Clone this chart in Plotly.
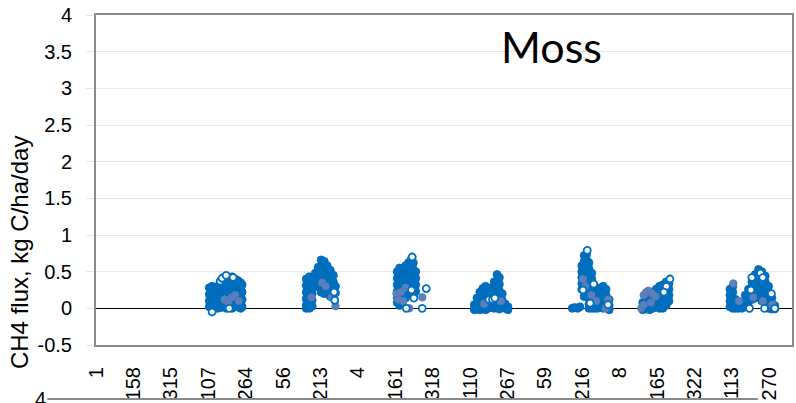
import plotly.graph_objects as go

# Category axis: consecutive days over 8 years, labelled every 157th day by day-of-year
tick_index = [1, 158, 315, 472, 629, 786, 943, 1100, 1257, 1414, 1571, 1728,
              1885, 2042, 2199, 2356, 2513, 2670, 2827]
tick_labels = ["1", "158", "315", "107", "264", "56", "213", "4", "161", "318",
               "110", "267", "59", "216", "8", "165", "322", "113", "270"]
n_days = 2922

y_ticks = [-0.5, 0, 0.5, 1, 1.5, 2, 2.5, 3, 3.5, 4]
y_tick_text = ["-0.5", "0", "0.5", "1", "1.5", "2", "2.5", "3", "3.5", "4"]

# Measured CH4 flux (kg C/ha/day), growing seasons; several readings per day
s1_days = [476, 488, 500, 512, 524, 536, 548, 560, 572, 584, 596, 608, 614]
s1_flux = [[0.28, 0.19, 0.10, 0.02], [0.30, 0.21, 0.12, 0.03], [0.27, 0.18, 0.09, 0.01],
           [0.30, 0.22, 0.13, 0.05, 0.0], [0.36, 0.27, 0.18, 0.09, 0.01],
           [0.42, 0.33, 0.24, 0.15, 0.05], [0.44, 0.35, 0.26, 0.17, 0.08, 0.0],
           [0.40, 0.31, 0.22, 0.13, 0.04], [0.43, 0.34, 0.25, 0.16, 0.07, 0.0],
           [0.40, 0.31, 0.22, 0.13, 0.04], [0.38, 0.29, 0.20, 0.11, 0.02],
           [0.35, 0.26, 0.17, 0.08, 0.0], [0.32, 0.22, 0.12, 0.02]]

s2_days = [883, 896, 908, 921, 933, 946, 959, 971, 984, 997, 1006]
s2_flux = [[0.40, 0.31, 0.22, 0.13, 0.04, 0.0], [0.43, 0.34, 0.25, 0.16, 0.07, 0.0],
           [0.38, 0.29, 0.20, 0.11, 0.03], [0.48, 0.39, 0.30], [0.56, 0.47, 0.38, 0.29],
           [0.66, 0.57, 0.48, 0.39, 0.30, 0.22], [0.64, 0.55, 0.46, 0.37, 0.28, 0.20],
           [0.58, 0.49, 0.40, 0.31, 0.22], [0.52, 0.43, 0.34, 0.25, 0.16],
           [0.45, 0.36, 0.27], [0.30, 0.21]]

s3_days = [1265, 1275, 1287, 1300, 1312, 1322, 1333, 1343]
s3_flux = [[0.50, 0.41, 0.32, 0.23, 0.15, 0.08], [0.55, 0.46, 0.37, 0.28, 0.19, 0.10, 0.04],
           [0.52, 0.43, 0.34, 0.25, 0.16, 0.08], [0.58, 0.49, 0.40, 0.31, 0.22, 0.14],
           [0.62, 0.53, 0.44, 0.35, 0.26], [0.66, 0.57, 0.48, 0.39, 0.30, 0.21],
           [0.62, 0.53, 0.44, 0.35, 0.26, 0.17], [0.50, 0.41, 0.32, 0.23]]

s4_days = [1589, 1600, 1612, 1624, 1636, 1648, 1660, 1672, 1684, 1694, 1706, 1718, 1730]
s4_flux = [[0.05, 0.0, -0.02], [0.14, 0.06, -0.01], [0.22, 0.13, 0.04, -0.02],
           [0.27, 0.18, 0.09, 0.01], [0.30, 0.21, 0.12, 0.03, -0.02], [0.24, 0.15, 0.06, 0.0],
           [0.28, 0.19, 0.10, 0.02], [0.36, 0.27, 0.18, 0.09, 0.0],
           [0.46, 0.37, 0.28, 0.19, 0.10, 0.01], [0.42, 0.33, 0.24, 0.15, 0.06, -0.01],
           [0.20, 0.11, 0.02], [0.06, 0.0], [0.02, -0.02]]

s5_days = [2000, 2010, 2022, 2032, 2040, 2050, 2060, 2070, 2082, 2094, 2106, 2118, 2130, 2142, 2155]
s5_flux = [[0.0], [0.01], [0.0], [0.02], [0.58, 0.50, 0.42, 0.34, 0.26],
           [0.72, 0.64, 0.56, 0.48, 0.40, 0.32, 0.24, 0.16],
           [0.74, 0.66, 0.58, 0.50, 0.42, 0.34, 0.26],
           [0.62, 0.54, 0.46, 0.38, 0.30, 0.22, 0.14, 0.06, 0.0],
           [0.48, 0.40, 0.32, 0.24, 0.16, 0.08, 0.0], [0.30, 0.22, 0.14, 0.06, 0.0],
           [0.22, 0.14, 0.06, 0.0], [0.28, 0.20, 0.12, 0.04], [0.30, 0.22, 0.14, 0.06, 0.0],
           [0.26, 0.18, 0.10, 0.02], [0.12, 0.04, -0.02]]

s6_days = [2296, 2310, 2324, 2338, 2352, 2366, 2380, 2394, 2406]
s6_flux = [[0.08, 0.02, -0.02], [0.14, 0.06, 0.0], [0.18, 0.10, 0.02, -0.02],
           [0.22, 0.14, 0.06, 0.0], [0.26, 0.18, 0.10, 0.02], [0.30, 0.22, 0.14, 0.06, 0.0],
           [0.32, 0.24, 0.16, 0.08, 0.0], [0.36, 0.28, 0.20, 0.12, 0.04], [0.34, 0.26, 0.18, 0.10]]

s7_days = [2662, 2674, 2686, 2698, 2712, 2726, 2740, 2754, 2768, 2782, 2796, 2810, 2824, 2838, 2850]
s7_flux = [[0.26, 0.18, 0.10, 0.02], [0.30, 0.22, 0.14, 0.06, 0.0], [0.12, 0.04, 0.0],
           [0.03, 0.0], [0.08, 0.0], [0.18, 0.10, 0.02], [0.26, 0.18, 0.10, 0.02],
           [0.36, 0.28, 0.20, 0.12], [0.46, 0.38, 0.30, 0.22, 0.14],
           [0.53, 0.45, 0.37, 0.29, 0.21], [0.50, 0.42, 0.34, 0.26, 0.18, 0.10],
           [0.44, 0.36, 0.28, 0.20, 0.12, 0.04], [0.30, 0.22, 0.14, 0.06, 0.0],
           [0.14, 0.06, -0.01], [0.04, -0.01]]

# Second chamber series
muted_days = [540, 556, 570, 585, 600, 905, 950, 965, 990, 1000, 1003, 1006,
              1262, 1270, 1280, 1290, 1300, 1316, 1370, 1630, 1700,
              2045, 2055, 2080, 2100, 2140, 2150, 2290, 2300, 2300, 2310, 2320, 2335, 2350, 2330,
              2676, 2700, 2760, 2800, 2840]
muted_flux = [0.12, 0.08, 0.15, 0.18, 0.10, 0.15, 0.35, 0.30, 0.15, 0.20, 0.11, 0.03,
              0.20, 0.12, 0.22, 0.10, 0.28, 0.0, 0.15, 0.06, 0.10,
              0.40, 0.30, 0.18, 0.10, 0.0, 0.12, 0.0, 0.05, 0.18, 0.22, 0.24, 0.20, 0.16, 0.08,
              0.34, 0.10, 0.15, 0.10, 0.05]

# Third chamber series (open markers)
open_days = [488, 522, 530, 547, 576, 560, 1000, 1003, 1328, 1325, 1335, 1303, 1370, 1387,
             1650, 1665, 1675, 2063, 2045, 2075, 2090, 2150, 2410, 2395, 2385,
             2750, 2754, 2790, 2800, 2836, 2744, 2807, 2850]
open_flux = [-0.05, 0.37, 0.41, 0.45, 0.42, 0.0, 0.22, 0.11, 0.70, 0.25, 0.14, 0.0, 0.0, 0.27,
             0.12, 0.12, 0.14, 0.79, 0.25, 0.07, 0.33, 0.05, 0.40, 0.30, 0.22,
             0.25, 0.42, 0.48, 0.42, 0.20, 0.0, 0.0, 0.0]


def flatten(days, flux):
    xs, ys = [], []
    for d, vals in zip(days, flux):
        for v in vals:
            xs.append(d)
            ys.append(v)
    return xs, ys


seasons = [(s1_days, s1_flux), (s2_days, s2_flux), (s3_days, s3_flux), (s4_days, s4_flux),
           (s5_days, s5_flux), (s6_days, s6_flux), (s7_days, s7_flux)]
bright_x, bright_y = [], []
for d, f in seasons:
    xs, ys = flatten(d, f)
    bright_x += xs
    bright_y += ys

fig = go.Figure()
fig.add_trace(go.Scatter(
    x=bright_x, y=bright_y, mode="markers",
    marker=dict(symbol="circle", size=8, color="#0070C0",
                line=dict(color="#0068b6", width=0.8)),
    showlegend=False, hoverinfo="skip"))
fig.add_trace(go.Scatter(
    x=muted_days, y=muted_flux, mode="markers",
    marker=dict(symbol="circle", size=7.5, color="#5b80bd",
                line=dict(color="#5079b8", width=0.8)),
    showlegend=False, hoverinfo="skip"))
fig.add_trace(go.Scatter(
    x=open_days, y=open_flux, mode="markers",
    marker=dict(symbol="circle", size=7, color="#ffffff",
                line=dict(color="#0070C0", width=1.8)),
    showlegend=False, hoverinfo="skip"))

axis_font = dict(family="Liberation Sans, Arial, sans-serif", size=20, color="#000000")
grid_col = "#e8e8de"
frame_col = "#8a8a8a"

fig.update_xaxes(
    range=[0.5, n_days + 0.5], tickmode="array", tickvals=tick_index, ticktext=tick_labels,
    tickangle=-90, tickfont=axis_font, showgrid=False, zeroline=False,
    showline=True, linecolor=frame_col, linewidth=2, mirror=True,
    ticks="", ticklabelstandoff=12)
fig.update_yaxes(
    range=[-0.5, 4], tickmode="array", tickvals=y_ticks, ticktext=y_tick_text,
    tickfont=axis_font, showgrid=True, gridcolor=grid_col, gridwidth=1,
    zeroline=True, zerolinecolor="#000000", zerolinewidth=1,
    showline=True, linecolor=frame_col, linewidth=2, mirror=True,
    ticks="outside", ticklen=8, tickcolor=grid_col, ticklabelstandoff=10)

fig.update_layout(
    width=796, height=403,
    margin=dict(l=96, r=2, t=15, b=58),
    paper_bgcolor="#ffffff", plot_bgcolor="#ffffff",
    annotations=[
        dict(text="Moss", xref="paper", yref="paper", x=0.655, y=0.905,
             xanchor="center", yanchor="middle", showarrow=False,
             font=dict(family="Lato, Carlito, sans-serif", size=43, color="#000000")),
        dict(text="CH4 flux, kg C/ha/day", xref="paper", yref="paper", x=-0.11, y=0.28,
             xanchor="center", yanchor="middle", textangle=-90, showarrow=False,
             font=dict(family="Liberation Sans, Arial, sans-serif", size=24, color="#000000")),
        dict(text="4", xref="paper", yref="paper", x=-0.08, y=-0.125,
             xanchor="center", yanchor="top", showarrow=False,
             font=dict(family="Liberation Sans, Arial, sans-serif", size=20, color="#000000")),
    ],
    shapes=[
        dict(type="line", xref="paper", yref="paper", x0=-0.07, x1=0.951, y0=-0.164, y1=-0.164,
             line=dict(color=frame_col, width=2)),
    ],
)

fig.write_html("out.html")
